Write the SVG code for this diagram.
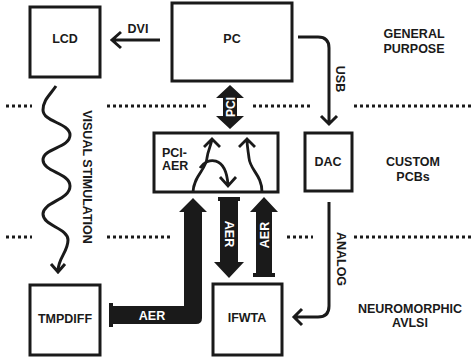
<svg xmlns="http://www.w3.org/2000/svg" width="473" height="361" viewBox="0 0 473 361">
<style>
.box{fill:#fff;stroke:#1a1a1a;stroke-width:3}
.t{font-family:"Liberation Sans",Arial,sans-serif;font-weight:bold;font-size:12.5px;fill:#1a1a1a;text-anchor:middle}
.w{fill:#fff}
.ln{fill:none;stroke:#1a1a1a;stroke-width:3;stroke-linejoin:miter}
.thin{fill:none;stroke:#1a1a1a;stroke-width:2.8}
.dot{fill:none;stroke:#1a1a1a;stroke-width:3;stroke-dasharray:3 3}
.fat{fill:#1a1a1a}
</style>
<rect width="473" height="361" fill="#fff"/>
<g id="separators">
<path class="dot" d="M6,106H32M107,106H206M253,106H313M354,106H473"/>
<path class="dot" d="M6,237H32M107,237H173M287,237H313M354,237H473"/>
</g>
<g id="layer-labels">
<text class="t" x="414" y="38">GENERAL</text>
<text class="t" x="414" y="53">PURPOSE</text>
<text class="t" x="413" y="166">CUSTOM</text>
<text class="t" x="413" y="181">PCBs</text>
<text class="t" x="410" y="313">NEUROMORPHIC</text>
<text class="t" x="410" y="327">AVLSI</text>
</g>
<g id="lcd"><rect class="box" x="30" y="7" width="70" height="70"/><text class="t" x="65" y="43">LCD</text></g>
<g id="pc"><rect class="box" x="172" y="3" width="120" height="78"/><text class="t" x="232" y="43">PC</text></g>
<g id="dac"><rect class="box" x="305" y="133" width="47" height="58"/><text class="t" x="328" y="166">DAC</text></g>
<g id="pci-aer"><rect class="box" x="154" y="133" width="124" height="59"/>
<text class="t" x="162" y="157" style="text-anchor:start">PCI-</text>
<text class="t" x="162" y="170" style="text-anchor:start">AER</text>
<path class="thin" d="M193,192C194,175 206,170 207,158C208,150 211,146 212,139M204,147L212,139L220,147"/>
<path class="thin" d="M200,168C207,157 226,155 228,185M220,177L228,186L236,177"/>
<path class="thin" d="M262,192C262,175 250,170 249,158C248,150 247,146 247,139M239,147L247,139L255,147"/>
</g>
<g id="tmpdiff"><rect class="box" x="30" y="285" width="70" height="70"/><text class="t" x="65" y="323">TMPDIFF</text></g>
<g id="ifwta"><rect class="box" x="213" y="284" width="69" height="71"/><text class="t" x="247" y="322">IFWTA</text></g>
<g id="connectors">
<path class="ln" d="M160,40H112M121,32L112,40L121,48"/>
<text class="t" x="138" y="33">DVI</text>
<path class="ln" d="M298,37H318Q329,37 329,48V124M321,116L329,124L337,116"/>
<text class="t" transform="translate(340,79) rotate(90)" y="4.5">USB</text>
<path class="ln" d="M329,202V306Q329,317 318,317H295M302,309L294,317L302,325"/>
<text class="t" transform="translate(341,259) rotate(90)" y="4.5">ANALOG</text>
<path class="ln" d="M56,86C50,95 43,100 43,110C43,122 70,123 70,135C70,148 43,148 43,160C43,172 70,173 70,186C70,200 43,202 43,214C43,226 68,228 68,240C68,252 58,258 58,271M51,264L58,272L65,264"/>
<text class="t" transform="translate(87,177) rotate(90)" y="4.5">VISUAL STIMULATION</text>
<path class="fat" d="M230,85L244,98H237V116H244L230,129L216,116H223V98H216Z"/>
<text class="t w" transform="translate(230,107) rotate(-90)" y="4.5" style="font-size:12px">PCI</text>
<path class="fat" d="M193,198L207,212H202V318Q202,324 196,324H112V306H184V212H179Z"/>
<rect class="fat" x="109" y="303" width="4" height="24"/>
<text class="t w" x="152" y="320">AER</text>
<path class="fat" d="M220,199H238V262H244L229,278L214,262H220Z"/>
<rect class="fat" x="218" y="197" width="22" height="4"/>
<text class="t w" transform="translate(229,234) rotate(90)" y="4.5">AER</text>
<path class="fat" d="M264,197L278,212H272V275H256V212H250Z"/>
<rect class="fat" x="253" y="273" width="22" height="4"/>
<text class="t w" transform="translate(264,235) rotate(-90)" y="4.5">AER</text>
</g>
</svg>
